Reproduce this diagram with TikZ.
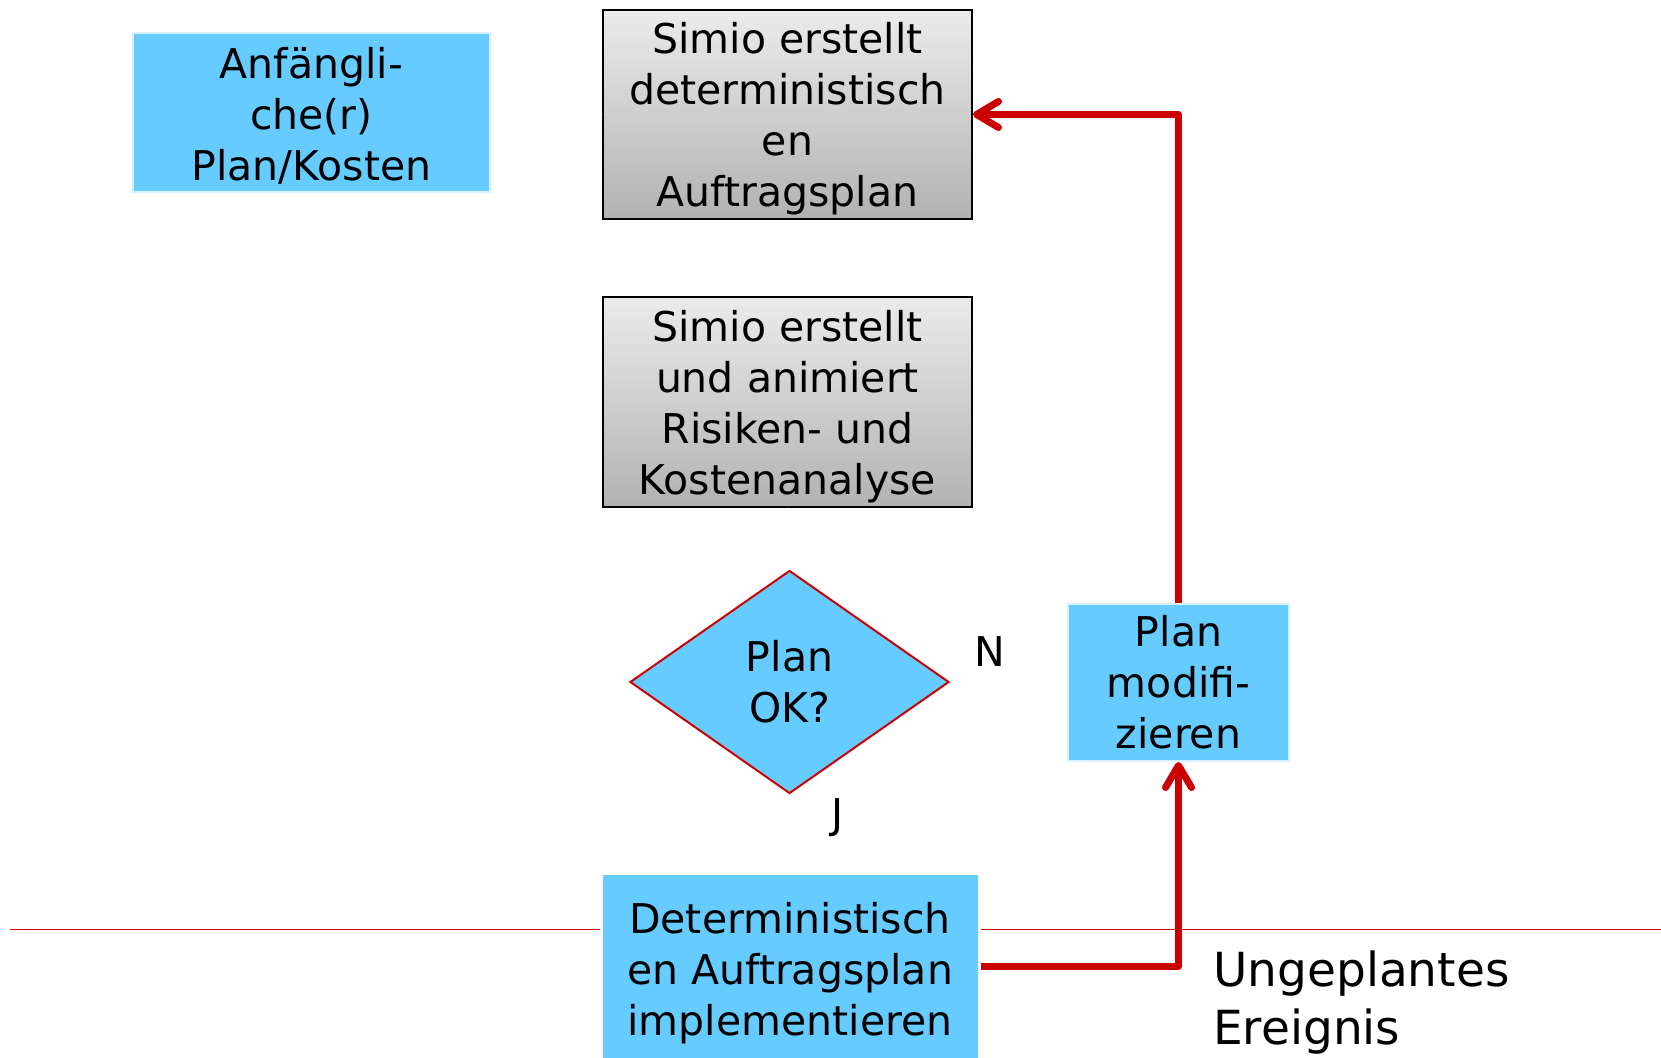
\documentclass[tikz,border=0pt]{standalone}
\usepackage{fontspec}
\setmainfont{DejaVu Sans}
\usetikzlibrary{shapes.geometric,arrows.meta}
\definecolor{boxblue}{HTML}{66CCFF}
\definecolor{boxedge}{HTML}{D6F0FF}
\definecolor{arrred}{HTML}{CC0000}
\definecolor{graytop}{HTML}{EBEBEB}
\definecolor{graybot}{HTML}{B2B2B2}
\newcommand{\lowergap}[1]{\rule{0pt}{#1}}
\tikzset{
  base/.style={font=\fontsize{41}{51}\selectfont, align=center, inner sep=0pt, text=black},
  bluebox/.style={base, rectangle, fill=boxblue, draw=boxedge, line width=2pt},
  graybox/.style={base, rectangle, draw=black, line width=2pt, top color=graytop, bottom color=graybot},
  decision/.style={base, diamond, fill=boxblue, draw=arrred, line width=2pt},
  lbl/.style={base},
  flow/.style={draw=arrred, line width=7pt, line join=round,
    -{Straight Barb[length=22pt,width=26pt,round]}},
  hidden/.style={draw=white, line width=2pt},
  rule/.style={draw=arrred, line width=1pt}
}
\begin{document}
\begin{tikzpicture}[x=1pt,y=-1pt]
\useasboundingbox[fill=white] (0,0) rectangle (1661,1057);
% thin horizontal separator
\coordinate (ruleL) at (10,929);
\coordinate (ruleR) at (1661,929);
\draw[rule] (ruleL) -- (ruleR);

\node[bluebox, minimum width=357pt, minimum height=159pt] (anf) at (311.5,112.5)
  {\lowergap{38pt}Anfängli-\\che(r)\\Plan/Kosten};
\node[graybox, minimum width=369pt, minimum height=208pt] (sim1) at (787.5,114.5)
  {\lowergap{40pt}Simio erstellt\\deterministisch\\en\\Auftragsplan};
\node[graybox, minimum width=369pt, minimum height=210pt] (sim2) at (787.5,402)
  {\lowergap{40pt}Simio erstellt\\und animiert\\Risiken- und\\Kostenanalyse};
\node[decision, minimum width=319pt, minimum height=223pt] (ok) at (789.5,682)
  {Plan\\OK?};
\node[bluebox, minimum width=221pt, minimum height=157pt] (pm) at (1178.5,682.5)
  {Plan\\modifi-\\zieren};
\node[bluebox, draw=white, line width=3pt, minimum width=378pt, minimum height=186pt] (impl) at (790,966)
  {\lowergap{46pt}Deterministisch\\en Auftragsplan\\implementieren};

\node[lbl] (n) at (990,652) {N};
\node[lbl] (j) at (838,818) {J};
\node[lbl, font=\fontsize{47}{58}\selectfont, align=left, anchor=west] (ev) at (1213,1003)
  {Ungeplantes\\Ereignis};

% hidden (white) connectors of the original
\draw[hidden] (anf.east) -- (sim1.west);
\draw[hidden] (sim1.south) -- (sim2.north);
\draw[hidden] (sim2.south) -- (ok.north);

% red flows
\draw[flow] (pm.north) |- (sim1.east);
\draw[flow] (impl.east) -| (pm.south);
\end{tikzpicture}
\end{document}
